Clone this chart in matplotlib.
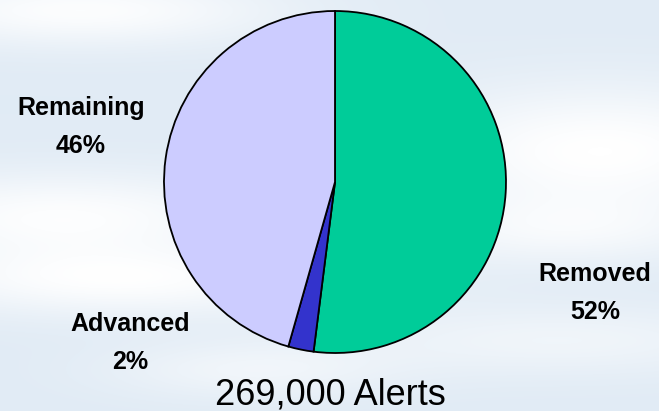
import numpy as np
import matplotlib
matplotlib.use("Agg")
import matplotlib.pyplot as plt

# Data
categories = ["Removed", "Advanced", "Remaining"]
shares = [52.0, 2.4, 45.6]
colors = ["#00CC99", "#3333CC", "#CCCCFF"]
total_label = "269,000 Alerts"

W, H = 659, 411
fig = plt.figure(figsize=(W / 100, H / 100), dpi=100)
ax = fig.add_axes([0, 0, 1, 1])
ax.set_xlim(0, W)
ax.set_ylim(0, H)
ax.set_aspect("equal")
ax.axis("off")

# Background: light blue with soft white cloud streaks (deterministic)
yy, xx = np.mgrid[0:H, 0:W].astype(float)
base = np.array([0.882, 0.922, 0.961])
blobs = [  # (xc, yc_from_top, sx, sy, amp)
    (80, 10, 140, 25, 0.9),
    (60, 215, 150, 30, 0.9),
    (120, 280, 160, 25, 0.9),
    (600, 150, 140, 45, 1.0),
    (560, 230, 120, 25, 0.6),
    (560, 340, 160, 25, 0.5),
    (250, 370, 100, 20, 0.5),
]
w = np.zeros((H, W))
for xc, yc, sx, sy, a in blobs:
    w += a * np.exp(-((xx - xc) ** 2 / (2 * sx ** 2) + (yy - yc) ** 2 / (2 * sy ** 2)))
w = np.clip(w, 0, 1)
img = base[None, None, :] * (1 - w[..., None]) + w[..., None]
ax.imshow(img, extent=[0, W, 0, H], origin="upper", zorder=0, aspect="auto")

cx, cy, r = 335, H - 182, 171
wedges, _ = ax.pie(shares, colors=colors, startangle=90, counterclock=False,
                   center=(cx, cy), radius=r, frame=True,
                   wedgeprops=dict(edgecolor="black", linewidth=1.3))
for wd in wedges:
    wd.set_zorder(2)
ax.set_xlim(0, W)
ax.set_ylim(0, H)
ax.axis("off")

label_pos = {"Removed": (595, H - 293), "Advanced": (130, H - 343), "Remaining": (81, H - 127)}
for cat, v in zip(categories, shares):
    x, y = label_pos[cat]
    ax.text(x, y, f"{cat}\n{v:.0f}%", ha="center", va="center", fontsize=18,
            fontweight="bold", family="Liberation Sans", linespacing=1.75, zorder=3)

ax.text(330, H - 395, total_label, ha="center", va="center", fontsize=26,
        family="Liberation Sans", zorder=3)

fig.savefig("out.png", dpi=100)
